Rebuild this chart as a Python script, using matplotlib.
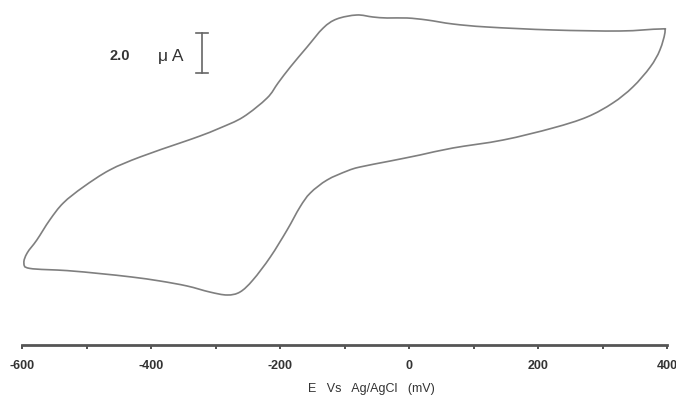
import matplotlib
matplotlib.use('Agg')
import matplotlib.pyplot as plt
from matplotlib.path import Path
from matplotlib.patches import PathPatch
import numpy as np

matplotlib.rcParams['font.family'] = ['Liberation Sans', 'DejaVu Sans']
matplotlib.rcParams['axes.unicode_minus'] = False

# potential (mV vs Ag/AgCl) and current (uA), anodic sweep from -600 to 400
fwd_E = [-597, -592, -577, -557, -536, -505, -464, -417, -355, -324, -293, -257,
         -220, -203, -184, -158, -133, -112, -81, -56, -34, -3, 28, 68, 121,
         223, 327, 389, 397]
fwd_I = [-3.15, -2.65, -2.0, -1.0, -0.15, 0.65, 1.5, 2.15, 2.85, 3.2, 3.6, 4.15,
         5.1, 5.85, 6.65, 7.65, 8.6, 9.05, 9.25, 9.15, 9.1, 9.1, 9.0, 8.8, 8.65,
         8.5, 8.45, 8.55, 8.45]

# cathodic sweep back from 400 to -600
rev_E = [389, 374, 347, 316, 276, 223, 146, 68, 17, -29, -76, -96, -127,
         -153, -169, -189, -215, -242, -262, -282, -309, -344, -386, -430, -479,
         -530, -588]
rev_I = [7.5, 6.65, 5.65, 4.85, 4.15, 3.6, 3.0, 2.6, 2.25, 1.95, 1.65,
         1.45, 1.0, 0.35, -0.35, -1.5, -2.85, -4.0, -4.6, -4.75, -4.6, -4.3,
         -4.05, -3.85, -3.68, -3.53, -3.42]

tick_pos = [-600, -400, -200, 0, 200, 400]
tick_lab = ['-600', '-400', '-200', '0', '200', '400']

fig = plt.figure(figsize=(6.76, 4.03), dpi=100)
ax = fig.add_axes([22 / 676, 58 / 403, 645 / 676, 345 / 403])
ax.set_xlim(-600, 400)
ax.set_ylim(-7.25, 10)

# closed loop drawn as a smooth curve through the read points
# (catmull-rom handled in display space, so both axes scale alike)
pts = np.column_stack([fwd_E + rev_E, fwd_I + rev_I])
disp = ax.transData.transform(pts)
n = len(disp)
verts = [disp[0]]
codes = [Path.MOVETO]
for i in range(n):
    p0, p1, p2, p3 = disp[i - 1], disp[i], disp[(i + 1) % n], disp[(i + 2) % n]
    c1 = p1 + (p2 - p0) / 6.0
    c2 = p2 - (p3 - p1) / 6.0
    verts += [c1, c2, p2]
    codes += [Path.CURVE4] * 3
verts = ax.transData.inverted().transform(np.array(verts))
ax.add_patch(PathPatch(Path(verts, codes), fill=False, edgecolor='#7f7f7f',
                       lw=1.2, joinstyle='round'))

# scale bar 2.0 uA
ax.plot([-321, -321], [6.35, 8.35], color='#666666', lw=1.2)
ax.plot([-331, -311], [8.35, 8.35], color='#666666', lw=1.2)
ax.plot([-331, -311], [6.35, 6.35], color='#666666', lw=1.2)
ax.text(-350, 7.2, 'μ A', ha='right', va='center', fontsize=12.5, color='#333333')
ax.text(-432, 7.2, '2.0', ha='right', va='center', fontsize=10.5,
        fontweight='bold', color='#333333')

for s in ['top', 'left', 'right']:
    ax.spines[s].set_visible(False)
ax.spines['bottom'].set_color('#555555')
ax.spines['bottom'].set_linewidth(2)
ax.set_yticks([])
ax.set_xticks(tick_pos)
ax.set_xticklabels(tick_lab, fontsize=9, fontweight='bold', color='#333333')
ax.set_xticks(np.arange(-500, 400, 200), minor=True)
ax.tick_params(axis='x', which='both', direction='out', length=3, width=1.2,
               color='#333333', pad=8)

fig.text(371 / 676, 1 - 389 / 403, 'E   Vs   Ag/AgCl   (mV)', ha='center',
         va='center', fontsize=9, color='#333333')

fig.savefig('out.png', dpi=100)
